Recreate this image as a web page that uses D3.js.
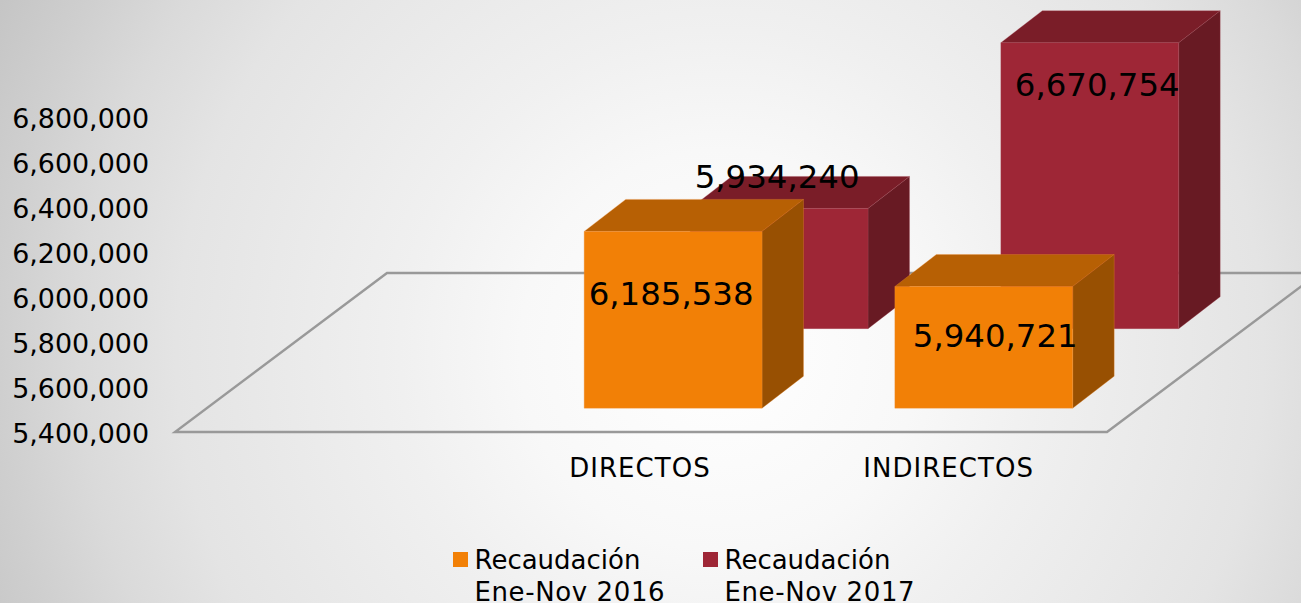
<!DOCTYPE html>
<html><head><meta charset="utf-8">
<script src="https://cdn.jsdelivr.net/npm/d3@7/dist/d3.min.js"></script>
<style>html,body{margin:0;padding:0;background:#fff}svg{display:block}text{font-family:"DejaVu Sans",sans-serif;fill:#000}</style>
</head><body><svg id="c" width="1301" height="603"></svg>
<script>
const categories = ["", "DIRECTOS", "INDIRECTOS"];
const seriesNames = ["Recaudación Ene-Nov 2016", "Recaudación Ene-Nov 2017"];
const legendLine1 = ["Recaudación", "Recaudación"];
const legendLine2 = ["Ene-Nov 2016", "Ene-Nov 2017"];
const values2016 = [null, 6185538, 5940721];
const values2017 = [null, 5934240, 6670754];
const tickValues = [5400000,5600000,5800000,6000000,6200000,6400000,6600000,6800000];
const faces = [
  {front:"#f28006", top:"#b76004", side:"#985002", edge:"#f0903a"},
  {front:"#9e2636", top:"#7a1d28", side:"#681a23", edge:"#a84a58"}
];
const W=1301,H=603;
const svg=d3.select("#c");
const defs=svg.append("defs");
const g=defs.append("radialGradient").attr("id","bg").attr("gradientUnits","userSpaceOnUse")
  .attr("cx",720).attr("cy",350).attr("r",800);
[[0,"#ffffff"],[0.25,"#f8f8f8"],[0.4,"#f0f0f0"],[0.68,"#e4e4e4"],[0.8,"#dadada"],[0.9,"#cfcfcf"],[1,"#c5c5c5"]].forEach(s=>g.append("stop").attr("offset",s[0]).attr("stop-color",s[1]));
svg.append("rect").attr("width",W).attr("height",H).attr("fill","url(#bg)");

const floorFront=432, depthX=212, depthY=159;
const x=d3.scaleBand().domain(categories).range([175,1107]);
const y=d3.scaleLinear().domain([5400000,6800000]).range([floorFront,117]);
const depth=d3.scaleBand().domain(seriesNames).range([0,1]);
const barW=x.bandwidth()*0.5725, boxDX=41.5, boxDY=32;
const project=(px,d)=>[px+d*depthX, floorFront-d*depthY];

// floor
const fl=[project(x.range()[0],0),project(x.range()[1],0),project(x.range()[1],1),project(x.range()[0],1)];
svg.append("path").attr("d",d3.line()(fl)+"Z").attr("fill","none").attr("stroke","#999").attr("stroke-width",2.4);

// y axis
const ax=svg.append("g").attr("transform","translate(149,0)")
  .call(d3.axisLeft(y).tickValues(tickValues).tickSize(0).tickPadding(0).tickFormat(d3.format(",")));
ax.select(".domain").remove();
ax.selectAll("text").attr("font-size",26.9).style("font-family",'"DejaVu Sans",sans-serif').attr("fill","#000").attr("dy","0.35em");
ax.selectAll(".tick").attr("transform",d=>`translate(0,${y(d)+1.2})`);

// x labels
const catShift=[0,-1,-3];
svg.append("g").selectAll("text").data(categories.filter(c=>c)).join("text")
 .attr("x",c=>x(c)+x.bandwidth()/2+catShift[categories.indexOf(c)]).attr("y",477).attr("text-anchor","middle")
 .attr("font-size",26).style("letter-spacing","1.05px").text(c=>c);

const poly=(pts,fill,edge)=>svg.append("polygon").attr("points",pts.map(p=>p.join(",")).join(" ")).attr("fill",fill).attr("stroke",edge).attr("stroke-width",0.5).attr("stroke-opacity",0.6);
const rows=[];
[1,0].forEach(si=>{
  const vals=si===0?values2016:values2017;
  categories.forEach((c,i)=>{
    if(vals[i]==null)return;
    const d=depth(seriesNames[si])+0.15;
    const base=project(x(c),d);
    rows.push({si,c,v:vals[i],base});
  });
});
rows.forEach(r=>{
  const f=faces[r.si];
  const x0=r.base[0]+66.7;
  const x1=x0+barW;
  const yb=r.base[1];
  const h=floorFront-y(r.v);
  const yt=yb-h;
  poly([[x0,yt],[x1,yt],[x1+boxDX,yt-boxDY],[x0+boxDX,yt-boxDY]],f.top,f.edge);
  poly([[x1,yt],[x1+boxDX,yt-boxDY],[x1+boxDX,yb-boxDY],[x1,yb]],f.side,f.edge);
  poly([[x0,yt],[x1,yt],[x1,yb],[x0,yb]],f.front,f.edge);
  r.x0=x0;r.yt=yt;
});
const labelOff={ "6185538":[-2,74],"5934240":[-2,-20],"5940721":[11.5,61],"6670754":[7.5,53]};
rows.forEach(r=>{
  const o=labelOff[r.v];
  svg.append("text").attr("x",r.x0+barW/2+o[0]).attr("y",r.yt+o[1]).attr("text-anchor","middle").attr("font-size",32.4).text(d3.format(",")(r.v));
});

// legend
const lx=[453,703];
seriesNames.forEach((s,i)=>{
  svg.append("rect").attr("x",lx[i]).attr("y",552).attr("width",15).attr("height",15).attr("fill",faces[i].front);
  svg.append("text").attr("x",lx[i]+21.5).attr("y",569).attr("font-size",26).text(legendLine1[i]);
  svg.append("text").attr("x",lx[i]+21.5).attr("y",600.5).attr("font-size",26).style("letter-spacing","0.6px").text(legendLine2[i]);
});
</script></body></html>
